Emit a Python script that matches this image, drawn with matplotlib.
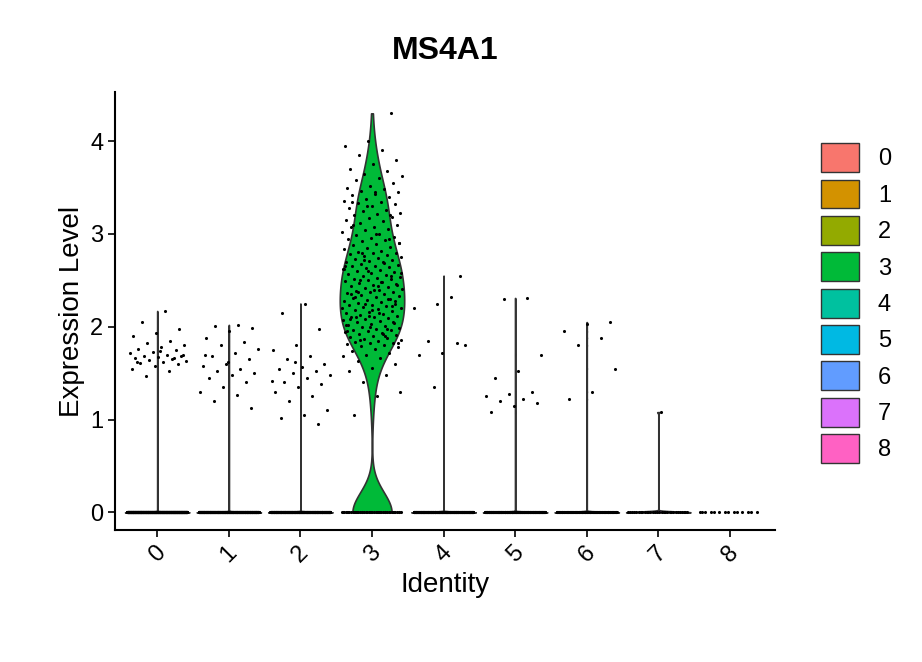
import numpy as np
import matplotlib.pyplot as plt
from matplotlib.patches import Patch

plt.rcParams['font.family'] = ['Liberation Sans', 'DejaVu Sans']

clusters = ['0', '1', '2', '3', '4', '5', '6', '7', '8']
colors = ['#F8766D', '#D39200', '#93AA00', '#00BA38', '#00C19F',
          '#00B9E3', '#619CFF', '#DB72FB', '#FF61C3']

# number of cells with zero expression per cluster
zero_counts = [700, 480, 420, 45, 320, 260, 160, 30, 14]

# non-zero expression values
pos_values = [
    [2.17, 2.05, 1.98, 1.93, 1.90, 1.85, 1.82, 1.80, 1.78, 1.76, 1.75, 1.73, 1.72,
     1.70, 1.69, 1.68, 1.67, 1.66, 1.65, 1.64, 1.63, 1.62, 1.61, 1.60, 1.58, 1.55,
     1.52, 1.47, 1.70, 1.74, 1.62, 1.66],
    [2.02, 2.01, 1.99, 1.95, 1.88, 1.84, 1.80, 1.76, 1.72, 1.68, 1.65, 1.60, 1.58,
     1.55, 1.52, 1.50, 1.48, 1.45, 1.40, 1.35, 1.30, 1.27, 1.20, 1.13, 1.62, 1.70],
    [2.25, 2.15, 1.98, 1.80, 1.75, 1.68, 1.65, 1.60, 1.57, 1.55, 1.52, 1.50, 1.48,
     1.45, 1.40, 1.38, 1.35, 1.30, 1.25, 1.20, 1.10, 1.05, 1.02, 0.95, 1.62, 1.42],
    [4.30, 4.00, 3.95, 3.90, 3.85, 3.80, 3.75, 3.70, 3.68, 3.65, 3.62, 3.60, 3.58,
     3.55, 3.52, 3.50, 3.48, 3.46, 3.45, 3.43, 3.42, 3.40, 3.38, 3.36, 3.35, 3.33,
     3.32, 3.30, 3.28, 3.26, 3.25, 3.23, 3.22, 3.20, 3.18, 3.17, 3.15, 3.14, 3.12,
     3.10, 3.08, 3.07, 3.05, 3.04, 3.02, 3.00, 2.99, 2.97, 2.96, 2.95, 2.93, 2.92,
     2.90, 2.89, 2.88, 2.86, 2.85, 2.84, 2.82, 2.81, 2.80, 2.79, 2.78, 2.77, 2.76,
     2.75, 2.74, 2.73, 2.72, 2.71, 2.70, 2.69, 2.68, 2.67, 2.66, 2.65, 2.64, 2.63,
     2.62, 2.61, 2.60, 2.59, 2.58, 2.57, 2.56, 2.55, 2.54, 2.53, 2.52, 2.51, 2.50,
     2.49, 2.48, 2.47, 2.46, 2.45, 2.44, 2.43, 2.42, 2.41, 2.40, 2.39, 2.38, 2.37,
     2.36, 2.35, 2.34, 2.33, 2.32, 2.31, 2.30, 2.29, 2.28, 2.27, 2.26, 2.25, 2.24,
     2.23, 2.22, 2.21, 2.20, 2.19, 2.18, 2.17, 2.16, 2.15, 2.14, 2.13, 2.12, 2.11,
     2.10, 2.09, 2.08, 2.07, 2.06, 2.05, 2.04, 2.03, 2.02, 2.01, 2.00, 1.99, 1.98,
     1.97, 1.96, 1.95, 1.94, 1.93, 1.92, 1.91, 1.90, 1.89, 1.88, 1.87, 1.86, 1.85,
     1.84, 1.83, 1.82, 1.81, 1.80, 1.79, 1.78, 1.76, 1.74, 1.72, 1.70, 1.68, 1.66,
     1.63, 1.60, 1.56, 1.52, 1.48, 1.40, 1.30, 1.25, 1.05, 2.55, 2.60, 2.65, 2.70,
     2.50, 2.45, 2.40, 2.35, 2.30, 2.25, 2.20, 2.15, 2.10, 2.05, 2.00, 1.95, 1.90,
     2.80, 2.90, 3.00, 3.10, 3.20, 3.30, 2.62, 2.48, 2.38, 2.28, 2.18, 2.08, 1.98,
     2.72, 2.58, 2.44, 2.32, 2.22, 2.12, 2.02, 1.92, 1.86, 1.82, 3.45, 3.35, 2.95],
    [2.55, 2.25, 2.20, 2.32, 1.85, 1.80, 1.72, 1.70, 1.82, 1.35],
    [2.31, 2.30, 1.70, 1.52, 1.45, 1.30, 1.28, 1.25, 1.22, 1.20, 1.18, 1.15, 1.08],
    [2.05, 2.03, 1.95, 1.88, 1.80, 1.55, 1.30, 1.22],
    [1.08],
    [],
]

TITLE = 'MS4A1'

fig = plt.figure(figsize=(9.22, 6.62), dpi=100)
ax = fig.add_axes([115 / 922, 132 / 662, 660 / 922, 438 / 662])

golden = 0.6180339887
jitter_w = 0.42
for i, (nz, vals) in enumerate(zip(zero_counts, pos_values)):
    data = np.array([0.0] * nz + vals)
    n = len(data)
    offs = ((np.arange(n) * golden) % 1.0 - 0.5) * 2 * jitter_w
    if data.max() > 0:
        q75, q25 = np.percentile(data, [75, 25])
        lo = (q75 - q25) / 1.34
        lo = min(data.std(ddof=1), lo) if lo > 0 else 0.02
        bw = 0.9 * lo * n ** -0.2
        ys = np.linspace(data.min(), data.max(), 500)
        dens = np.exp(-0.5 * ((ys[:, None] - data[None, :]) / bw) ** 2).sum(axis=1)
        dens = dens / dens.max() * 0.45
        ax.fill_betweenx(ys, i - dens, i + dens, facecolor=colors[i],
                         edgecolor='#333333', linewidth=1.2, zorder=1)
    ax.scatter(i + offs, data, s=5, color='black', linewidths=0, zorder=2)

ax.set_xlim(-0.59, 8.63)
ax.set_ylim(-0.19, 4.53)
ax.set_xticks(range(len(clusters)))
ax.set_xticklabels(clusters, rotation=45, fontsize=17)
ax.set_yticks([0, 1, 2, 3, 4])
ax.tick_params(labelsize=17, width=1.2, length=5)
for s in ['top', 'right']:
    ax.spines[s].set_visible(False)
for s in ['left', 'bottom']:
    ax.spines[s].set_linewidth(1.5)
ax.set_xlabel('Identity', fontsize=20)
ax.set_ylabel('Expression Level', fontsize=20)
ax.set_title(TITLE, fontsize=23, fontweight='bold', pad=24)

handles = [Patch(facecolor=c, edgecolor='#333333', label=l) for c, l in zip(colors, clusters)]
fig.legend(handles=handles, loc='upper left', bbox_to_anchor=(800 / 922, 1 - 122 / 662),
           frameon=False, fontsize=17, handlelength=1.6, handleheight=1.5,
           labelspacing=0.32, handletextpad=0.8)

fig.savefig('out.png', dpi=100)
